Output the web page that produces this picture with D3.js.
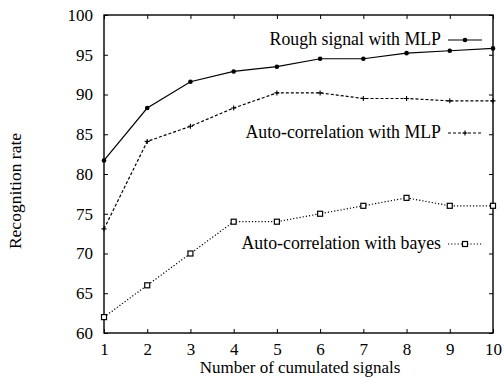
<!DOCTYPE html>
<html><head><meta charset="utf-8">
<script src="https://cdn.jsdelivr.net/npm/d3@7"></script>
<style>
body{margin:0;background:#fff}
svg text{font-family:"Liberation Serif","Times New Roman",serif !important;fill:#000}
</style></head>
<body><svg id="c" width="504" height="378"></svg>
<script>
const xValues=[1,2,3,4,5,6,7,8,9,10];
const roughMLP=[81.7,88.3,91.6,92.9,93.5,94.5,94.5,95.2,95.5,95.8];
const autoMLP=[73.1,84.1,86.0,88.3,90.2,90.2,89.5,89.5,89.2,89.2];
const autoBayes=[62,66,70,74,74,75,76,77,76,76];
const yTicks=[60,65,70,75,80,85,90,95,100];
const seriesNames=["Rough signal with MLP","Auto-correlation with MLP","Auto-correlation with bayes"];

const svg=d3.select("#c");
const L=104,R=493,T=15,B=333;
const x=d3.scaleLinear().domain([1,10]).range([L,R]);
const y=d3.scaleLinear().domain([60,100]).range([B,T]);

svg.append("rect").attr("x",L).attr("y",T).attr("width",R-L).attr("height",B-T)
  .attr("fill","none").attr("stroke","#000").attr("stroke-width",1.4);

const gx=svg.append("g").attr("transform",`translate(0,${B})`)
  .call(d3.axisBottom(x).tickValues(xValues).tickSize(-4).tickPadding(10).tickFormat(d3.format("d")));
const gxt=svg.append("g").attr("transform",`translate(0,${T})`)
  .call(d3.axisTop(x).tickValues(xValues).tickSize(-4).tickFormat(""));
const gy=svg.append("g").attr("transform",`translate(${L},0)`)
  .call(d3.axisLeft(y).tickValues(yTicks).tickSize(-4).tickPadding(11));
const gyr=svg.append("g").attr("transform",`translate(${R},0)`)
  .call(d3.axisRight(y).tickValues(yTicks).tickSize(-4).tickFormat(""));
[gx,gxt,gy,gyr].forEach(g=>{
  g.attr("font-family","Liberation Serif").attr("font-size",17);
  g.select(".domain").remove();g.selectAll("line").attr("stroke","#000");
  g.selectAll("text").attr("fill","#000").style("font-family","'Liberation Serif', serif");});

svg.append("text").attr("x",300).attr("y",373).attr("text-anchor","middle").attr("font-size",17)
  .text("Number of cumulated signals");
svg.append("text").attr("transform",`translate(21,191) rotate(-90)`).attr("text-anchor","middle")
  .attr("font-size",17.5).text("Recognition rate");

const styles=[
  {data:roughMLP,dash:null,marker:"dot",ly:40},
  {data:autoMLP,dash:"3,2",marker:"plus",ly:133},
  {data:autoBayes,dash:"1.2,2",marker:"square",ly:244}
];
const line=d3.line().x((d,i)=>x(xValues[i])).y(d=>y(d));

function drawMarker(g,type,cx,cy){
  if(type==="dot"){
    g.append("circle").attr("cx",cx).attr("cy",cy).attr("r",2.3).attr("fill","#000");
  }else if(type==="plus"){
    g.append("path").attr("d",`M${cx-2.5},${cy}H${cx+2.5}M${cx},${cy-2.5}V${cy+2.5}`).attr("stroke","#000").attr("stroke-width",1.1);
  }else{
    g.append("rect").attr("x",cx-2.5).attr("y",cy-2.5).attr("width",5).attr("height",5)
      .attr("fill","#fff").attr("stroke","#000").attr("stroke-width",1.2);
  }
}

styles.forEach((s,k)=>{
  const g=svg.append("g");
  g.append("path").attr("d",line(s.data)).attr("fill","none").attr("stroke","#000")
    .attr("stroke-width",1.2).attr("stroke-dasharray",s.dash);
  s.data.forEach((v,i)=>drawMarker(g,s.marker,x(xValues[i]),y(v)));
  g.append("text").attr("x",441).attr("y",s.ly+5).attr("text-anchor","end").attr("font-size",17.8).text(seriesNames[k]);
  g.append("line").attr("x1",448).attr("x2",482).attr("y1",s.ly).attr("y2",s.ly)
    .attr("stroke","#000").attr("stroke-width",1.2).attr("stroke-dasharray",s.dash);
  drawMarker(g,s.marker,465,s.ly);
});
</script></body></html>
